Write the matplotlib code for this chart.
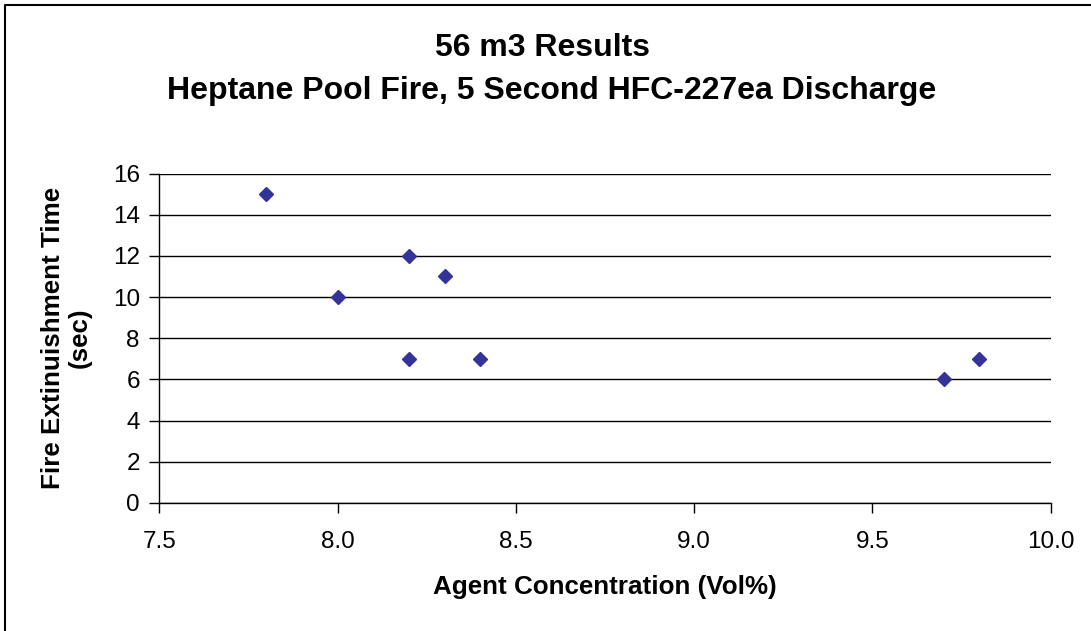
import matplotlib
matplotlib.use("Agg")
import matplotlib.pyplot as plt
from matplotlib.lines import Line2D

#data
agent_conc = [7.8, 8.0, 8.2, 8.2, 8.3, 8.4, 9.7, 9.8]
ext_time = [15, 10, 12, 7, 11, 7, 6, 7]
x_ticks = [7.5, 8.0, 8.5, 9.0, 9.5, 10.0]
y_ticks = [0, 2, 4, 6, 8, 10, 12, 14, 16]

plt.rcParams['font.family'] = ['Liberation Sans', 'DejaVu Sans']

fig = plt.figure(figsize=(10.91, 6.31), dpi=100)
ax = fig.add_axes([0.146, 0.203, 0.817, 0.522])

ax.plot(agent_conc, ext_time, linestyle='none', marker='D', markersize=7,
        color='#333399', markeredgecolor='#333399', zorder=3)

ax.set_xlim(7.5, 10.0)
ax.set_ylim(0, 16)
ax.set_xticks(x_ticks)
ax.set_xticklabels([f"{v:.1f}" for v in x_ticks])
ax.set_yticks(y_ticks)
ax.grid(True, axis='y', color='black', linewidth=1.0)
ax.set_axisbelow(True)

for side in ['top', 'right']:
    ax.spines[side].set_visible(False)
ax.spines['left'].set_linewidth(1.0)
ax.spines['bottom'].set_linewidth(1.0)
ax.tick_params(axis='both', direction='out', length=7, width=1.0, labelsize=17.5)
ax.tick_params(axis='x', pad=13)
ax.tick_params(axis='y', pad=7)

ax.set_xlabel("Agent Concentration (Vol%)", fontsize=18.7, fontweight='bold', labelpad=16)
ax.set_ylabel("Fire Extinuishment Time\n(sec)", fontsize=18.7, fontweight='bold', labelpad=15,
              linespacing=1.15)

fig.text(0.497, 0.924, "56 m3 Results", ha='center', va='center', fontsize=23, fontweight='bold')
fig.text(0.506, 0.855, "Heptane Pool Fire, 5 Second HFC-227ea Discharge", ha='center', va='center',
         fontsize=23, fontweight='bold')

#outer frame (only top and left visible in the original)
fig.add_artist(Line2D([0.005, 0.005, 1.0], [0.0, 0.992, 0.992], color='black', linewidth=1.5,
                      transform=fig.transFigure))

fig.savefig("out.png", dpi=100)
